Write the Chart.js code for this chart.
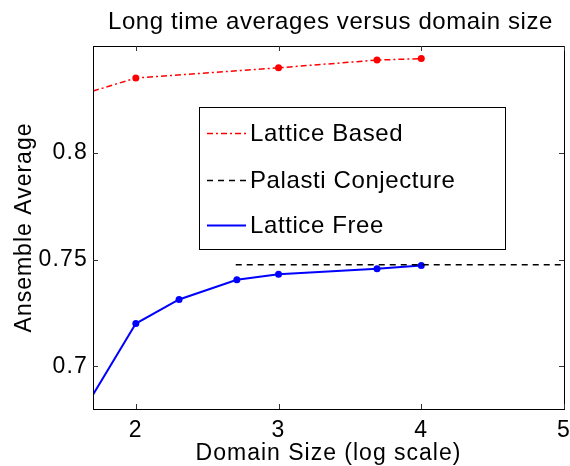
<!DOCTYPE html>
<html>
<head>
<meta charset="utf-8">
<script src="https://cdn.jsdelivr.net/npm/chart.js@4.4.1/dist/chart.umd.min.js"></script>
<style>
  html, body { margin: 0; padding: 0; background: #fff; }
  canvas { display: block; }
</style>
</head>
<body>
<canvas id="chart" width="570" height="466"></canvas>
<script>
const xLatticeBased = [1.7, 2, 3, 3.69, 4];
const yLatticeBased = [0.8289, 0.835, 0.8398, 0.8434, 0.8441];

const xPalasti = [2.7, 5];
const yPalasti = [0.7476, 0.7476];

const xLatticeFree = [1.7, 2, 2.303, 2.708, 3, 3.69, 4];
const yLatticeFree = [0.6867, 0.72, 0.7313, 0.7405, 0.7431, 0.7457, 0.7472];

const xTicks = [2, 3, 4, 5];
const yTicks = [0.7, 0.75, 0.8];

const FONT = '"Liberation Sans", Arial, Helvetica, sans-serif';

function toPoints(xs, ys) {
  return xs.map((x, i) => ({ x: x, y: ys[i] }));
}

// first point sits on the axis edge, no marker there
function markers(xs, r) {
  return xs.map((x, i) => (i === 0 ? 0 : r));
}

const legendItems = [
  { label: 'Lattice Based', color: '#ff0000', dash: [6, 3, 2, 3], width: 1.5 },
  { label: 'Palasti Conjecture', color: '#000000', dash: [6, 5], width: 1.5 },
  { label: 'Lattice Free', color: '#0000ff', dash: [], width: 2 },
];

const matlabFrame = {
  id: 'matlabFrame',
  beforeDraw(chart) {
    // a bit of extra spacing, closer to the old matlab helvetica look
    chart.ctx.letterSpacing = '1.2px';
  },
  afterDraw(chart) {
    const ctx = chart.ctx;
    const a = chart.chartArea;
    const xs = chart.scales.x;
    const ys = chart.scales.y;
    ctx.save();

    // axes box
    ctx.strokeStyle = '#000';
    ctx.lineWidth = 1;
    ctx.setLineDash([]);
    ctx.strokeRect(Math.round(a.left) + 0.5, Math.round(a.top) + 0.5,
      Math.round(a.right - a.left), Math.round(a.bottom - a.top));

    // inward ticks on all four sides
    ctx.strokeStyle = '#333';
    ctx.beginPath();
    xTicks.forEach(v => {
      const px = Math.round(xs.getPixelForValue(v)) + 0.5;
      ctx.moveTo(px, a.bottom);
      ctx.lineTo(px, a.bottom - 5);
      ctx.moveTo(px, a.top);
      ctx.lineTo(px, a.top + 5);
    });
    yTicks.forEach(v => {
      const py = Math.round(ys.getPixelForValue(v)) + 0.5;
      ctx.moveTo(a.left, py);
      ctx.lineTo(a.left + 5, py);
      ctx.moveTo(a.right, py);
      ctx.lineTo(a.right - 5, py);
    });
    ctx.stroke();

    // title and axis titles
    ctx.fillStyle = '#000';
    ctx.textAlign = 'center';
    ctx.textBaseline = 'alphabetic';
    ctx.letterSpacing = '0.6px';
    ctx.font = '24px ' + FONT;
    ctx.fillText('Long time averages versus domain size', (a.left + a.right) / 2 + 2, 29);
    ctx.letterSpacing = '1px';
    ctx.font = '23px ' + FONT;
    ctx.fillText('Domain Size (log scale)', (a.left + a.right) / 2, 460);
    ctx.save();
    ctx.translate(31, (a.top + a.bottom) / 2);
    ctx.rotate(-Math.PI / 2);
    ctx.fillText('Ansemble Average', 0, 0);
    ctx.restore();

    // legend box
    const lx = 199.5, ly = 107.5, lw = 306, lh = 142;
    ctx.fillStyle = '#fff';
    ctx.fillRect(lx, ly, lw, lh);
    ctx.strokeStyle = '#000';
    ctx.lineWidth = 1;
    ctx.strokeRect(lx, ly, lw, lh);
    const rows = [133, 180, 225];
    ctx.letterSpacing = '0.6px';
    ctx.font = '24px ' + FONT;
    ctx.textAlign = 'left';
    ctx.textBaseline = 'middle';
    legendItems.forEach((item, i) => {
      ctx.strokeStyle = item.color;
      ctx.lineWidth = item.width;
      ctx.setLineDash(item.dash);
      ctx.beginPath();
      ctx.moveTo(207, rows[i] + 0.5);
      ctx.lineTo(246, rows[i] + 0.5);
      ctx.stroke();
      ctx.setLineDash([]);
      ctx.fillStyle = '#000';
      ctx.fillText(item.label, 250, rows[i] + 1);
    });
    ctx.restore();
  },
};

function noPad(s) {
  s.paddingLeft = 0;
  s.paddingRight = 0;
  s.paddingTop = 0;
  s.paddingBottom = 0;
}

new Chart(document.getElementById('chart').getContext('2d'), {
  type: 'line',
  data: {
    datasets: [
      {
        label: 'Lattice Based',
        data: toPoints(xLatticeBased, yLatticeBased),
        borderColor: '#ff0000',
        backgroundColor: '#ff0000',
        borderWidth: 1.5,
        borderDash: [6, 3, 2, 3],
        pointRadius: markers(xLatticeBased, 3.5),
        pointBorderWidth: 0,
        tension: 0,
      },
      {
        label: 'Palasti Conjecture',
        data: toPoints(xPalasti, yPalasti),
        borderColor: '#000000',
        borderWidth: 1.5,
        borderDash: [6, 5],
        pointRadius: 0,
        tension: 0,
      },
      {
        label: 'Lattice Free',
        data: toPoints(xLatticeFree, yLatticeFree),
        borderColor: '#0000ff',
        backgroundColor: '#0000ff',
        borderWidth: 2,
        pointRadius: markers(xLatticeFree, 3.5),
        pointBorderWidth: 0,
        tension: 0,
      },
    ],
  },
  options: {
    responsive: false,
    animation: false,
    layout: { padding: { left: 0, right: 6, top: 46, bottom: 0 } },
    plugins: {
      legend: { display: false },
      tooltip: { enabled: false },
    },
    scales: {
      x: {
        type: 'linear',
        min: 1.7,
        max: 5,
        grid: { display: false, drawTicks: false },
        border: { display: false },
        afterBuildTicks: s => { s.ticks = xTicks.map(v => ({ value: v })); },
        afterFit: s => { s.height = 57; noPad(s); },
        ticks: {
          padding: 8,
          color: '#000',
          font: { family: FONT, size: 23 },
          maxRotation: 0,
        },
      },
      y: {
        type: 'linear',
        min: 0.68,
        max: 0.85,
        grid: { display: false, drawTicks: false },
        border: { display: false },
        afterBuildTicks: s => { s.ticks = yTicks.map(v => ({ value: v })); },
        afterFit: s => { s.width = 93; noPad(s); },
        ticks: {
          padding: 5,
          color: '#000',
          font: { family: FONT, size: 23 },
          callback: v => String(v),
        },
      },
    },
  },
  plugins: [matlabFrame],
});
</script>
</body>
</html>
